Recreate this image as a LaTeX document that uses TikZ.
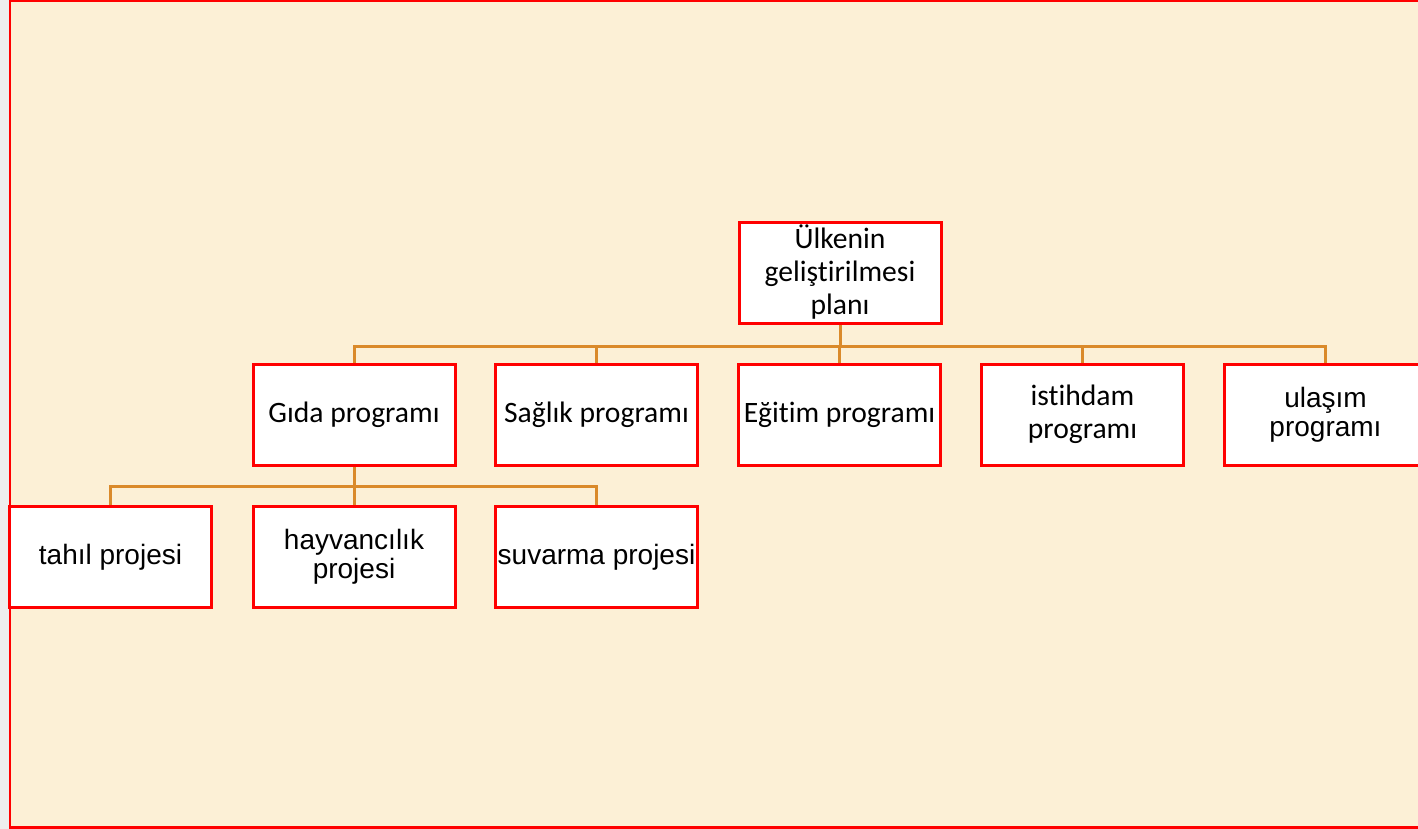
\documentclass[tikz,border=0pt]{standalone}
\usepackage{fontspec}
\setmainfont{Carlito}[RawFeature={-liga}]
\newfontfamily\fgfont{Liberation Sans}
\definecolor{bgbeige}{RGB}{252,240,214}
\definecolor{stripgray}{RGB}{238,238,238}
\definecolor{boxred}{RGB}{255,0,0}
\definecolor{linkorange}{RGB}{218,138,42}
\tikzset{
  orgbox/.style={draw=boxred, line width=1.5pt, fill=white, minimum width=101pt, minimum height=50.5pt, inner sep=0pt, align=center, font=\fontsize{14.8}{16.5}\selectfont},
  fgbox/.style={orgbox, font=\fgfont\fontsize{14}{14.4}\selectfont},
  link/.style={draw=linkorange, line width=1.5pt}
}
\begin{document}
\begin{tikzpicture}[x=0.5pt,y=-0.5pt]
\useasboundingbox (0,0) rectangle (1418,829);
\clip (0,0) rectangle (1418,829);
\fill[stripgray] (0,0) rectangle (10,829);
\fill[bgbeige] (10,0) rectangle (1418,829);
\draw[boxred, line width=1pt] (10,829) -- (10,1) -- (1418,1);
\draw[boxred, line width=1.5pt] (10,827.5) -- (1418,827.5);

\coordinate (busa) at (0,346);
\coordinate (busb) at (0,486);

\node[orgbox] (root) at (840,272.5) {Ülkenin\\geliştirilmesi\\planı};
\node[orgbox] (gida) at (354,414.5) {Gıda programı};
\node[orgbox] (saglik) at (596.5,414.5) {Sağlık programı};
\node[orgbox] (egitim) at (839.5,414.5) {Eğitim programı};
\node[orgbox] (istihdam) at (1082.5,414.5) {istihdam\\programı};
\node[fgbox] (ulasim) at (1325.5,414.5) {ulaşım\\programı};
\node[fgbox] (tahil) at (110.5,557) {tahıl projesi};
\node[fgbox] (hayvan) at (354,557) {hayvancılık\\projesi};
\node[fgbox] (suvarma) at (596.5,557) {suvarma projesi};

\foreach \c in {gida,saglik,egitim,istihdam,ulasim}{
  \draw[link] (root.south) -- (root.south |- busa) -| (\c.north);
}
\foreach \c in {tahil,hayvan,suvarma}{
  \draw[link] (gida.south) -- (gida.south |- busb) -| (\c.north);
}

% redraw boxes on top of the connectors
\node[orgbox] at (root) {Ülkenin\\geliştirilmesi\\planı};
\node[orgbox] at (gida) {Gıda programı};
\node[orgbox] at (saglik) {Sağlık programı};
\node[orgbox] at (egitim) {Eğitim programı};
\node[orgbox] at (istihdam) {istihdam\\programı};
\node[fgbox] at (ulasim) {ulaşım\\programı};
\node[fgbox] at (tahil) {tahıl projesi};
\node[fgbox] at (hayvan) {hayvancılık\\projesi};
\node[fgbox] at (suvarma) {suvarma projesi};
\end{tikzpicture}
\end{document}
